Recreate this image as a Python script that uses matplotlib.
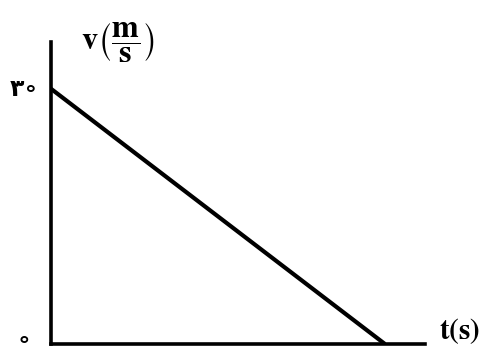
import matplotlib
matplotlib.use('Agg')
import matplotlib.pyplot as plt

plt.rcParams['mathtext.fontset'] = 'stix'

# velocity-time data
t_vals = [0, 10]
v_vals = [30, 0]
t_max = 11.2
v_max = 35.5

y_labels = ['\u06f3\u2218', '\u2218']   # Persian 30 and 0 (ring zero)
y_label_vals = [30, 0]

W, H = 488, 358
fig = plt.figure(figsize=(W / 100, H / 100), dpi=100)
ax = fig.add_axes([51 / W, (H - 344) / H, (425 - 51) / W, (344 - 42) / H])

ax.plot(t_vals, v_vals, color='black', linewidth=3.0, solid_capstyle='butt')
ax.set_xlim(0, t_max)
ax.set_ylim(0, v_max)

for s in ['top', 'right']:
    ax.spines[s].set_visible(False)
for s in ['left', 'bottom']:
    ax.spines[s].set_linewidth(2.6)
ax.set_xticks([])
ax.set_yticks([])

# Persian tick labels on the v axis
offsets = [(-9, 0), (-14, 3)]
for lab, val, off in zip(y_labels, y_label_vals, offsets):
    ax.annotate(lab, xy=(0, val), xytext=off, textcoords='offset points',
                ha='right', va='center', fontsize=17, fontweight='bold',
                family='DejaVu Sans')

# axis titles
fig.text(118 / W, 1 - 42 / H, r'$\mathbf{v}\left(\dfrac{\mathbf{m}}{\mathbf{s}}\right)$',
         ha='center', va='center', fontsize=23)
fig.text(460 / W, 1 - 331 / H, r'$\mathbf{t(s)}$', ha='center', va='center', fontsize=21)

fig.savefig('out.png', dpi=100, facecolor='white')
